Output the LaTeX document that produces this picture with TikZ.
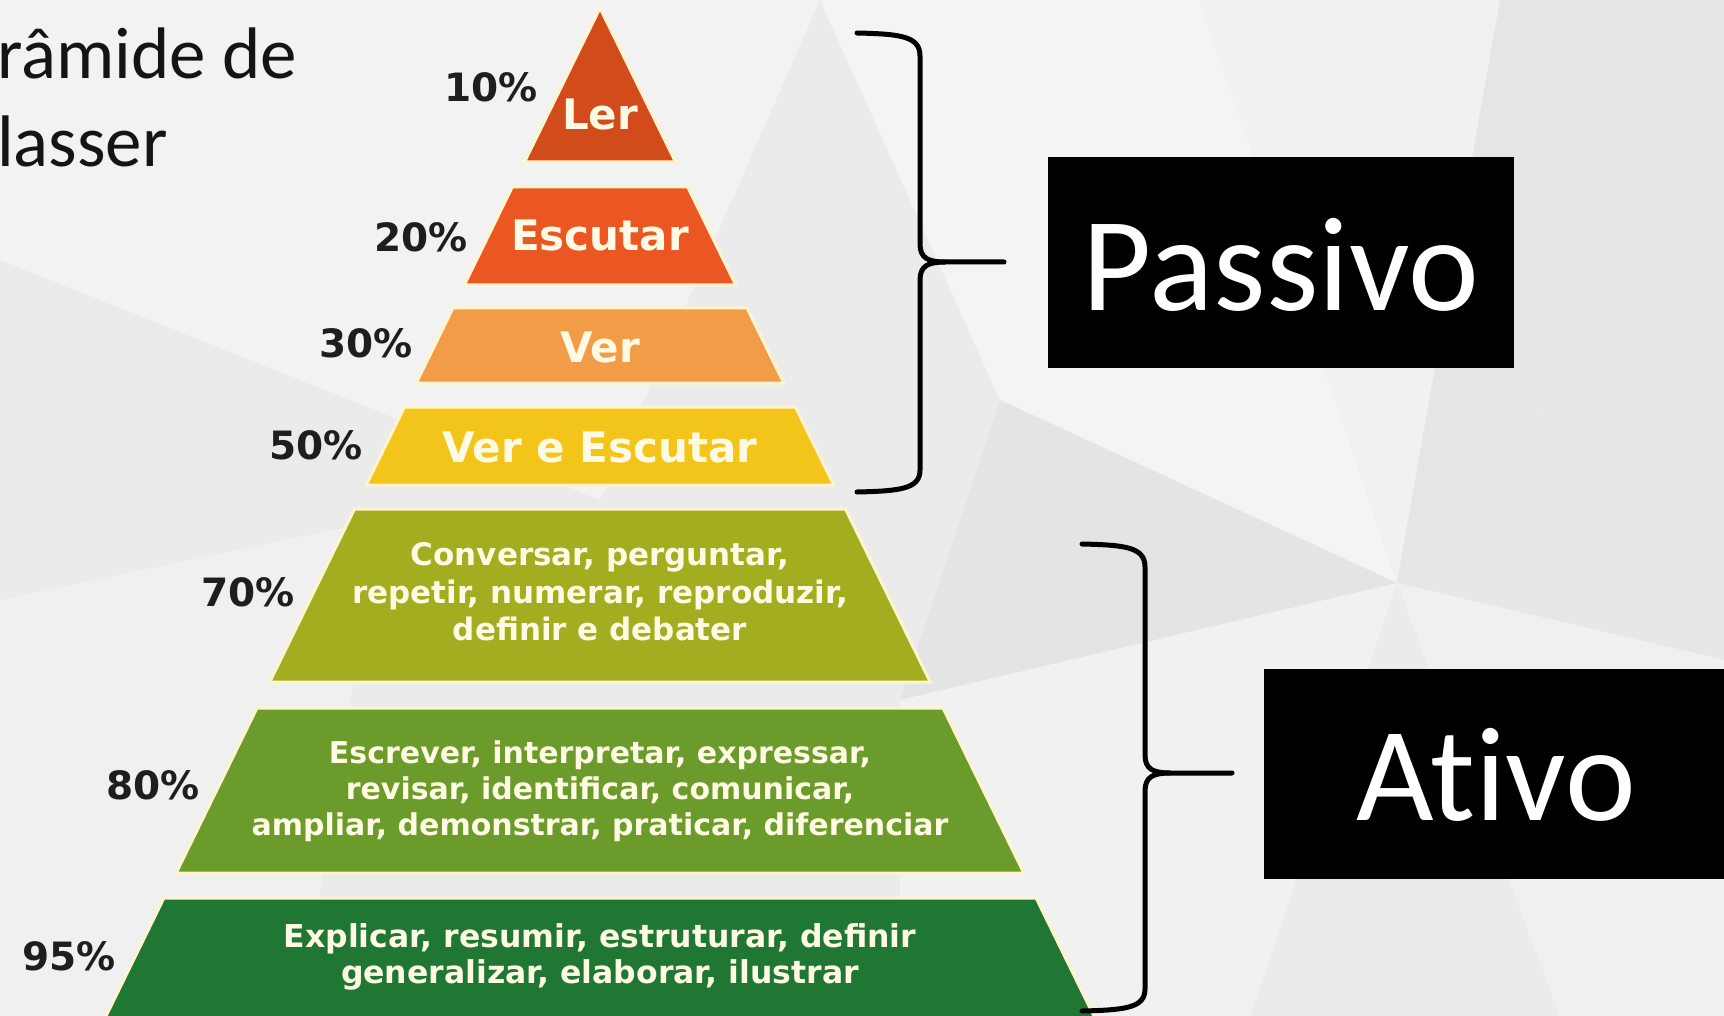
\documentclass[tikz,border=0pt]{standalone}
\usepackage{fontspec}
\setmainfont{DejaVu Sans}
\newfontfamily\calib[Ligatures={NoCommon}]{Carlito}
\definecolor{bgbase}{HTML}{EBEBEB}
\definecolor{cLer}{HTML}{D24B1B}
\definecolor{cEsc}{HTML}{EA5723}
\definecolor{cVer}{HTML}{F29C48}
\definecolor{cVeE}{HTML}{F3C41A}
\definecolor{cSet}{HTML}{A3AD20}
\definecolor{cOit}{HTML}{6B9B2B}
\definecolor{cNov}{HTML}{1F7733}
\definecolor{edgecol}{HTML}{FFF4CF}
\definecolor{txtcol}{HTML}{FFFAE4}
\definecolor{pctcol}{HTML}{1E1E1E}
\newcommand\pyrlayer[3]{%
  \pgfmathsetmacro\hwa{0.49*(#1-8)}%
  \pgfmathsetmacro\hwb{0.49*(#2-8)}%
  \path[layerst, fill=#3] (600-\hwa,#1) -- (600+\hwa,#1) -- (600+\hwb,#2) -- (600-\hwb,#2) -- cycle;
}
\begin{document}
\begin{tikzpicture}[x=1pt,y=-1pt,
  layerst/.style={draw=edgecol, line width=3pt, line join=miter},
  bigtxt/.style={text=txtcol, font=\bfseries\fontsize{42}{50}\selectfont, inner sep=0},
  smalltxt/.style={text=txtcol, align=center, inner sep=0},
  pct/.style={font=\bfseries\fontsize{39}{45}\selectfont, text=pctcol, anchor=east, inner sep=0},
  bracest/.style={line width=5pt, draw=black, line cap=round, line join=round},
  blackbox/.style={fill=black, inner sep=0},
  catxt/.style={text=white, font=\calib\fontsize{134}{140}\selectfont, inner sep=0, anchor=base},
  titletxt/.style={text=black!92, font=\calib\fontsize{73}{80}\selectfont, inner sep=0, anchor=base west}
]
\useasboundingbox (0,0) rectangle (1724,1016);
\clip (0,0) rectangle (1724,1016);
% background facets
\fill[bgbase] (0,0) rectangle (1724,1016);
\fill[black!5] (0,0) -- (820,0) -- (600,500) -- (0,260) -- cycle;
\fill[black!6] (0,600) -- (380,520) -- (300,1016) -- (0,1016) -- cycle;
\fill[black!4.5] (820,0) -- (1200,0) -- (1397,583) -- (1000,400) -- cycle;
\fill[black!5.5] (1200,0) -- (1500,0) -- (1397,583) -- cycle;
\fill[black!10] (1500,0) -- (1724,0) -- (1724,180) -- (1397,583) -- cycle;
\fill[black!9.5] (1397,583) -- (1724,180) -- (1724,660) -- cycle;
\fill[black!6] (1397,583) -- (1724,660) -- (1724,1016) -- (1560,1016) -- cycle;
\fill[black!10.5] (1000,400) -- (1397,583) -- (900,700) -- cycle;
\fill[black!5.5] (900,700) -- (1397,583) -- (1250,1016) -- (900,1016) -- cycle;
% title (cut off at the left edge)
\node[titletxt] (title1) at (-3,79) {râmide de};
\node[titletxt] (title2) at (-3,167) {lasser};
% pyramid
\path[layerst, fill=cLer] (600,8) -- (675.5,162) -- (524.5,162) -- cycle;
\pyrlayer{187}{285}{cEsc}
\pyrlayer{308}{383}{cVer}
\pyrlayer{407}{485}{cVeE}
\pyrlayer{509}{682}{cSet}
\pyrlayer{708}{873}{cOit}
\pyrlayer{898}{1030}{cNov}
% layer texts
\node[bigtxt] (ler) at (600,114) {Ler};
\node[bigtxt] (escutar) at (600,235) {Escutar};
\node[bigtxt] (ver) at (600,347) {Ver};
\node[bigtxt] (vereesc) at (600,447) {Ver e Escutar};
\node[smalltxt, font=\bfseries\fontsize{31}{37.5}\selectfont] (setenta) at (600,592)
  {Conversar, perguntar,\\repetir, numerar, reproduzir,\\definir e debater};
\node[smalltxt, font=\bfseries\fontsize{30}{36}\selectfont] (oitenta) at (600,791)
  {Escrever, interpretar, expressar,\\revisar, identificar, comunicar,\\ampliar, demonstrar, praticar, diferenciar};
\node[smalltxt, font=\bfseries\fontsize{31.5}{36}\selectfont] (noventa) at (600,957)
  {Explicar, resumir, estruturar, definir\\generalizar, elaborar, ilustrar};
% percentages
\node[pct] (p10) at (538,87) {10\%};
\node[pct] (p20) at (468,237) {20\%};
\node[pct] (p30) at (413,343) {30\%};
\node[pct] (p50) at (363,445) {50\%};
\node[pct] (p70) at (295,592) {70\%};
\node[pct] (p80) at (200,785) {80\%};
\node[pct] (p95) at (116,956) {95\%};
% black boxes
\node[blackbox, minimum width=466pt, minimum height=211pt] (passivo) at (1281,262.5) {};
\node[catxt] (passivotxt) at (1281,310) {Passivo};
\node[blackbox, minimum width=480pt, minimum height=210pt] (ativo) at (1504,774) {};
\node[catxt] (ativotxt) at (1496,820) {Ativo};
% braces
\coordinate (b1top) at (857,33);
\coordinate (b1tip) at (1004,262);
\coordinate (b1bot) at (857,492);
\coordinate (b2top) at (1082,544);
\coordinate (b2tip) at (1232,773);
\coordinate (b2bot) at (1082,1011);
\draw[bracest] (b1top) .. controls (900,34) and (920,36) .. (920,56) -- (920,244)
  .. controls (920,258) and (928,262) .. (945,262) -- (b1tip);
\draw[bracest] (945,262) .. controls (928,262) and (920,266) .. (920,280) -- (920,470)
  .. controls (920,489) and (900,491) .. (b1bot);
\draw[bracest] (b2top) .. controls (1125,545) and (1145,547) .. (1145,567) -- (1145,755)
  .. controls (1145,769) and (1153,773) .. (1170,773) -- (b2tip);
\draw[bracest] (1170,773) .. controls (1153,773) and (1145,777) .. (1145,791) -- (1145,989)
  .. controls (1145,1008) and (1125,1010) .. (b2bot);
\end{tikzpicture}
\end{document}
